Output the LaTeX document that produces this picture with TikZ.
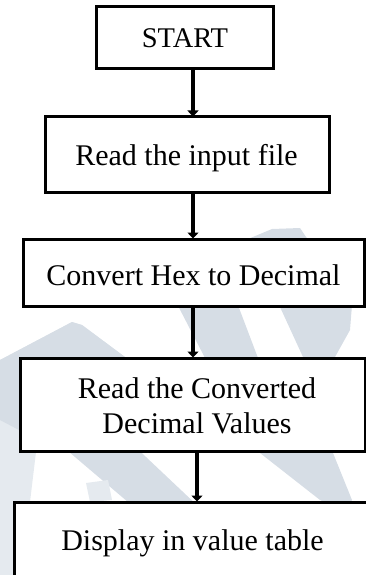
\documentclass[tikz,border=0pt]{standalone}
\usepackage{fontspec}
\setmainfont{Liberation Serif}
\usetikzlibrary{arrows.meta}

\definecolor{wmark}{HTML}{D6DDE5}
\definecolor{wmarklight}{HTML}{E5EAEF}

\tikzset{
  box/.style={draw=black, line width=3pt, fill=white, rectangle, inner sep=0pt},
  txt/.style={font=\fontsize{30}{35}\selectfont, inner sep=0pt, anchor=base},
  flow/.style={line width=4pt, -{Triangle[length=6pt,width=11pt]}, shorten >=-1pt}
}

\begin{document}
\begin{tikzpicture}[x=1pt, y=-1pt]
\useasboundingbox (0,0) rectangle (366,575);
\clip (0,0) rectangle (366,575);

% faint background watermark strokes
\fill[wmarklight] (0,360) -- (72,322) -- (82,325) -- (125,357) -- (130,420)
  -- (36,452) -- (30,502) -- (14,575) -- (0,575) -- cycle;
\fill[wmark] (0,360) -- (72,322) -- (82,325) -- (125,357) -- (130,420)
  -- (19,430) -- (0,420) -- cycle;
\fill[wmark] (55,440) -- (128,440) -- (200,508) -- (135,508) -- cycle;
\fill[wmarklight] (86,483) -- (108,480) -- (112,500) -- (90,502) -- cycle;
\fill[wmark] (175,300) -- (236,300) -- (258,358) -- (333,453) -- (352,500)
  -- (345,512) -- (320,500) -- (260,453) -- (205,358) -- cycle;
\fill[wmark] (248,239) -- (272,229) -- (300,228) -- (352,305) -- (350,330)
  -- (335,357) -- (303,357) -- (280,307) -- cycle;

% process boxes
\node[box, minimum width=177pt, minimum height=62pt] (start) at (184.5,38) {};
\node[box, minimum width=284pt, minimum height=75pt] (read) at (187,154.5) {};
\node[box, minimum width=341pt, minimum height=67pt] (conv) at (193.5,272.5) {};
\node[box, minimum width=345pt, minimum height=93pt] (rconv) at (192.5,404.5) {};
\node[box, minimum width=358pt, minimum height=78pt] (disp) at (193,541) {};

% box labels
\node[txt, font=\fontsize{28.5}{34}\selectfont] (tstart) at (185,48) {START};
\node[txt] (tread) at (186.5,165) {Read the input file};
\node[txt] (tconv) at (193.5,285) {Convert Hex to Decimal};
\node[txt] (trconv1) at (197,398) {Read the Converted};
\node[txt] (trconv2) at (197,433) {Decimal Values};
\node[txt] (tdisp) at (192.5,550) {Display in value table};

% vertical guides for the connectors
\coordinate (ax) at (193,0);
\coordinate (bx) at (197,0);

% connectors
\draw[flow] (start.south -| ax) -- (read.north -| ax);
\draw[flow] (read.south -| ax) -- (conv.north -| ax);
\draw[flow] (conv.south -| ax) -- (rconv.north -| ax);
\draw[flow] (rconv.south -| bx) -- (disp.north -| bx);
\end{tikzpicture}
\end{document}
